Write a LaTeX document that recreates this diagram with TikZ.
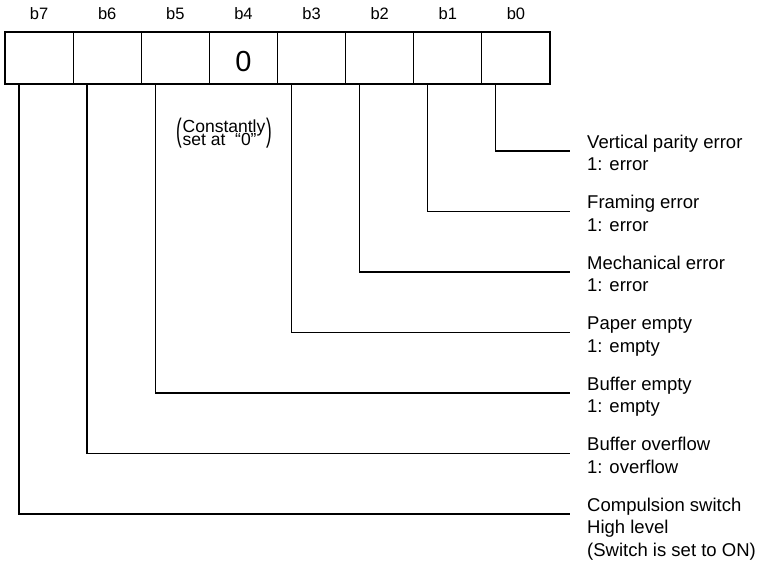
\documentclass[tikz,border=0pt]{standalone}
\usepackage{fontspec}
\setmainfont{Liberation Sans}
\usetikzlibrary{calc}
\newcommand\mytightlines{\lineskiplimit=-20pt\relax}
\begin{document}
\begin{tikzpicture}[x=1pt,y=-1pt,
  cell/.style={draw, line width=1.2pt, minimum width=68.125pt, minimum height=52pt, inner sep=0pt, anchor=center},
  wire/.style={line width=1.2pt},
  bitlab/.style={font=\fontsize{16.5}{19}\selectfont, inner sep=0pt},
  desc/.style={font=\fontsize{18.5}{22.5}\selectfont, align=left, anchor=north west, inner sep=0pt},
  note/.style={font={\fontsize{17.5}{13}\selectfont\mytightlines}, align=left, inner sep=0pt},
  paren/.style={font=\fontsize{17}{18}\selectfont, inner sep=0pt},
]
\useasboundingbox (0,0) rectangle (763,560);
\foreach \i/\n in {0/7,1/6,2/5,3/4,4/3,5/2,6/1,7/0} {
  \node[cell] (c\n) at ({5+68.125*(\i+0.5)},58) {};
  \node[bitlab] (b\n) at ({5+68.125*(\i+0.5)},14) {b\n};
}
\node[font=\fontsize{29}{30}\selectfont, inner sep=0pt, yshift=-4pt] (zero) at (c4) {0};
\foreach \n/\k in {0/0,1/1,2/2,3/3,5/4,6/5,7/6} {
  \coordinate (e\n) at (570,{151+60.5*\k});
  \draw[wire] ($(c\n.south west)+(14.5,0)$) |- (e\n);
}
\node[desc] (t0) at (587,134) {\rule{0pt}{14pt}Vertical parity error\\1: error};
\node[desc] (t1) at (587,194.5) {\rule{0pt}{14pt}Framing error\\1: error};
\node[desc] (t2) at (587,255) {\rule{0pt}{14pt}Mechanical error\\1: error};
\node[desc] (t3) at (587,315.5) {\rule{0pt}{14pt}Paper empty\\1: empty};
\node[desc] (t5) at (587,376) {\rule{0pt}{14pt}Buffer empty\\1: empty};
\node[desc] (t6) at (587,436.5) {\rule{0pt}{14pt}Buffer overflow\\1: overflow};
\node[desc] (t7) at (587,497) {\rule{0pt}{14pt}Compulsion switch\\High level\\(Switch is set to ON)};
\node[note] (const) at (224,133) {Constantly\\set at\ \ ``0''};
\node[paren, anchor=east] (lp) at ([xshift=-0.5pt]const.west) {\scalebox{1}[1.9]{(}};
\node[paren, anchor=west] (rp) at ([xshift=0.5pt]const.east) {\scalebox{1}[1.9]{)}};
\end{tikzpicture}
\end{document}
